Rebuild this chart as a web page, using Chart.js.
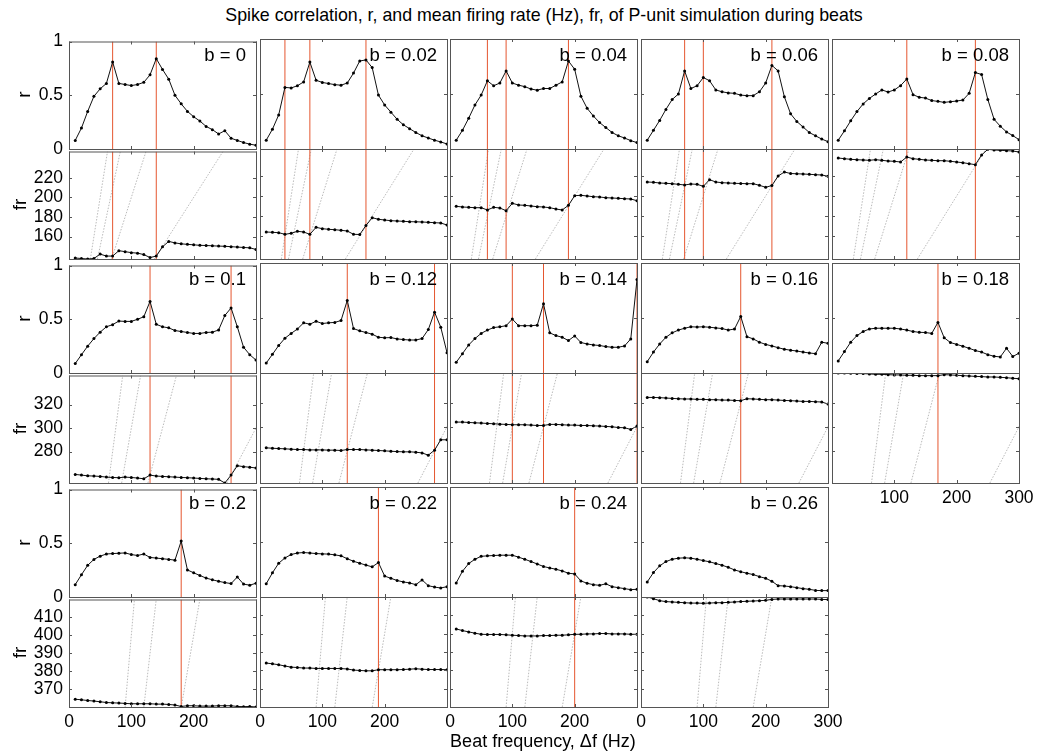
<!DOCTYPE html>
<html>
<head>
<meta charset="utf-8">
<script src="https://cdn.jsdelivr.net/npm/chart.js@4"></script>
<style>
  body { margin: 0; background: #fff; font-family: "Liberation Sans", Arial, sans-serif; }
  #fig { position: relative; width: 1037px; height: 755px; overflow: hidden; }
  #fig canvas { position: absolute; }
  .txt { position: absolute; white-space: nowrap; line-height: 1; color: #000; }
</style>
</head>
<body>
<div id="fig"></div>
<script>
// beat frequencies (Hz)
const freqs = [10,20,30,40,50,60,70,80,90,100,110,120,130,140,150,160,170,180,190,200,210,220,230,240,250,260,270,280,290,300];

// spike correlation r and firing rate fr, one pair per b
const r_b0   = [0.08,0.195,0.35,0.49,0.56,0.61,0.81,0.61,0.60,0.59,0.60,0.62,0.69,0.84,0.74,0.65,0.50,0.42,0.35,0.30,0.26,0.21,0.18,0.14,0.17,0.10,0.08,0.06,0.045,0.035];
const fr_b0  = [138,137.5,137,137.5,142,140,140,145.5,144.5,143.5,143,141.5,138.5,140,149.5,155,153.5,152.5,152,151.5,151,150.8,150.5,150.2,150,149.6,149.2,148.8,148.4,146.8];
const r_b002  = [0.08,0.18,0.31,0.56,0.555,0.575,0.61,0.79,0.625,0.605,0.595,0.585,0.58,0.60,0.69,0.80,0.81,0.74,0.49,0.40,0.335,0.27,0.22,0.185,0.15,0.12,0.10,0.08,0.064,0.046];
const fr_b002 = [164,163.7,163.3,161.7,162.7,164.7,164,161.7,168.7,167.3,166.7,166.3,165.7,165,161.7,161.5,170.5,178.3,176.7,176,175.3,175,174.7,174.3,174.2,174,173.7,173.3,173,171];
const r_b004  = [0.08,0.17,0.28,0.40,0.49,0.62,0.575,0.60,0.71,0.60,0.58,0.567,0.545,0.535,0.55,0.55,0.58,0.61,0.80,0.725,0.48,0.37,0.30,0.24,0.195,0.15,0.12,0.10,0.076,0.058];
const fr_b004 = [189.7,189,188.7,188.3,188.3,186,188.7,188,185.3,192.7,191,190.7,190,189.3,189,188.3,187,186,190.7,200.3,200.7,200,199.3,199,198.3,198,197.7,197.3,197,195.3];
const r_b006  = [0.08,0.17,0.26,0.36,0.45,0.50,0.71,0.55,0.575,0.65,0.62,0.537,0.52,0.51,0.506,0.49,0.485,0.485,0.52,0.60,0.76,0.71,0.475,0.32,0.25,0.20,0.15,0.12,0.09,0.067];
const fr_b006 = [214,213.7,213,212.7,212.3,211.7,211,212,211.7,209.7,216.3,214,213.3,213,212.7,212.5,212.3,212.3,210.7,208.7,210.5,220,224,222.5,222.2,222,221.7,221.3,221,219.7];
const r_b008  = [0.08,0.165,0.256,0.34,0.41,0.46,0.50,0.537,0.518,0.537,0.576,0.637,0.494,0.47,0.463,0.44,0.433,0.424,0.43,0.436,0.445,0.506,0.695,0.677,0.45,0.27,0.207,0.155,0.122,0.085];
const fr_b008 = [238,237.3,236.7,236.3,236,235.7,236.3,235.7,235,234.7,234,239,237.3,236.7,236,235.7,235.3,235.3,234.7,234,233.3,232.3,231.3,241,246.7,246,245.7,245.3,245,244];
const r_b01   = [0.088,0.17,0.25,0.32,0.38,0.43,0.45,0.483,0.48,0.48,0.50,0.523,0.666,0.453,0.43,0.42,0.395,0.386,0.377,0.368,0.368,0.377,0.38,0.40,0.535,0.605,0.43,0.24,0.17,0.12];
const fr_b01  = [260.6,260,259.4,259.2,258.9,258.3,258,257.8,258.3,258,257.5,256.9,260,259.2,258.9,258.6,258.3,258,257.8,257.5,257.2,256.9,256.7,256.4,253.3,260,268,267.2,266.7,266.1];
const r_b012  = [0.09,0.17,0.25,0.316,0.36,0.40,0.456,0.444,0.47,0.45,0.456,0.46,0.477,0.66,0.404,0.383,0.368,0.353,0.325,0.32,0.322,0.31,0.304,0.30,0.30,0.313,0.395,0.553,0.416,0.185];
const fr_b012 = [282.5,282.2,281.9,281.7,281.4,281.1,281.1,280.8,280.8,280.8,280.6,280.6,280.3,281.1,281.1,281.1,280.8,280.6,280.3,280,279.7,279.4,279.2,279.2,278.9,278.3,276.4,280.6,289.2,289.2];
const r_b014  = [0.097,0.176,0.255,0.313,0.36,0.39,0.413,0.42,0.43,0.49,0.43,0.43,0.43,0.435,0.63,0.365,0.34,0.325,0.295,0.337,0.277,0.264,0.255,0.25,0.24,0.234,0.234,0.246,0.31,0.85];
const fr_b014 = [303.9,303.9,303.6,303.3,303.1,302.8,302.5,302.2,302,301.7,301.7,301.7,301.4,301.1,301.1,302,302,301.7,301.4,301.4,301.1,301.1,300.8,300.6,300.3,300,299.4,299.2,297.8,300.6];
const r_b016  = [0.103,0.19,0.264,0.325,0.365,0.39,0.407,0.42,0.418,0.42,0.416,0.41,0.404,0.39,0.40,0.514,0.33,0.31,0.28,0.26,0.246,0.23,0.216,0.207,0.20,0.19,0.182,0.176,0.28,0.27];
const fr_b016 = [324.4,324.4,324.2,323.9,323.6,323.3,323.1,323.1,322.8,322.8,322.5,322.5,322.2,322.2,321.9,321.7,323.3,323.1,322.8,322.5,322.5,322.2,321.9,321.7,321.4,321.1,321.1,320.8,320.6,318.9];
const r_b018  = [0.11,0.195,0.28,0.34,0.377,0.40,0.407,0.407,0.407,0.407,0.40,0.39,0.377,0.37,0.368,0.36,0.46,0.32,0.277,0.26,0.243,0.225,0.204,0.19,0.167,0.152,0.146,0.225,0.15,0.18];
const fr_b018 = [344.7,344.7,344.4,344.2,344.2,343.9,343.6,343.6,343.3,343.1,343.1,342.8,342.8,342.5,342.5,342.5,342.5,343.3,343.1,342.8,342.5,342.2,341.9,341.7,341.4,341.4,341.1,340.8,340.3,340];
const r_b02   = [0.115,0.207,0.295,0.35,0.38,0.40,0.404,0.407,0.41,0.395,0.386,0.40,0.368,0.362,0.356,0.35,0.343,0.52,0.252,0.225,0.20,0.176,0.16,0.146,0.134,0.125,0.186,0.12,0.11,0.128];
const fr_b02  = [364.5,364.2,363.8,363.5,363.1,362.7,362.5,362.4,362.2,362,362,362,362,361.8,361.8,361.6,361.3,360.5,360.9,360.9,360.7,360.7,360.7,360.9,360.9,360.9,360.5,360.4,360.5,360.2];
const r_b022  = [0.12,0.22,0.307,0.355,0.386,0.40,0.404,0.40,0.395,0.392,0.39,0.383,0.374,0.348,0.325,0.307,0.29,0.274,0.313,0.19,0.17,0.15,0.137,0.128,0.112,0.155,0.103,0.09,0.082,0.094];
const fr_b022 = [384,383.6,383.1,382.4,381.8,381.6,381.3,381.3,381.1,381.1,381.1,381.1,381,380.8,380.2,380,379.8,379.8,380.4,380.4,380.4,380.4,380.5,380.7,380.9,380.7,380.5,380.5,380.5,380.4];
const r_b024  = [0.128,0.234,0.304,0.343,0.37,0.374,0.377,0.38,0.38,0.38,0.362,0.343,0.322,0.30,0.277,0.264,0.252,0.237,0.216,0.21,0.146,0.125,0.112,0.106,0.12,0.094,0.085,0.076,0.067,0.07];
const fr_b024 = [402.5,401.6,400.9,400.2,399.6,399.5,399.5,399.5,399.3,399.1,398.9,398.7,398.7,398.7,398.9,398.9,399.1,399.1,399.3,399.6,399.6,399.8,399.8,400,400,399.8,399.8,399.8,399.6,399.6];
const r_b026  = [0.137,0.222,0.283,0.322,0.343,0.353,0.356,0.353,0.343,0.331,0.32,0.304,0.289,0.27,0.246,0.23,0.216,0.204,0.185,0.17,0.143,0.103,0.10,0.094,0.085,0.076,0.07,0.06,0.058,0.058];
const fr_b026 = [419.8,418.9,417.8,417.3,417.1,416.9,416.7,416.5,416.5,416.4,416.5,416.7,416.7,416.9,417.1,417.3,417.5,417.6,417.8,418,418.5,418.7,418.7,418.7,418.7,418.7,418.7,418.7,418.5,418.4];

// locking frequencies (red vertical lines)
const lock_b0 = [70,140], lock_b002 = [40,80,170], lock_b004 = [60,90,190], lock_b006 = [70,100,210];
const lock_b008 = [120,230], lock_b01 = [130,260], lock_b012 = [140,280], lock_b014 = [100,150,300];
const lock_b016 = [160], lock_b018 = [170], lock_b02 = [180], lock_b022 = [190], lock_b024 = [200], lock_b026 = [];

// axes
const xTicks = [0,100,200,300];
const rTicks = [0,0.5,1];
const frTicksRow = [[160,180,200,220],[280,300,320],[370,380,390,400,410]];
const frLimitsRow = [[137,247],[253.3,344.7],[360.2,419.8]];
const harmonics = [1,2,3,4]; // dotted lines fr = n * df

const panels = [
  {b:'0',    r:r_b0,   fr:fr_b0,   lock:lock_b0},
  {b:'0.02', r:r_b002, fr:fr_b002, lock:lock_b002},
  {b:'0.04', r:r_b004, fr:fr_b004, lock:lock_b004},
  {b:'0.06', r:r_b006, fr:fr_b006, lock:lock_b006},
  {b:'0.08', r:r_b008, fr:fr_b008, lock:lock_b008},
  {b:'0.1',  r:r_b01,  fr:fr_b01,  lock:lock_b01},
  {b:'0.12', r:r_b012, fr:fr_b012, lock:lock_b012},
  {b:'0.14', r:r_b014, fr:fr_b014, lock:lock_b014},
  {b:'0.16', r:r_b016, fr:fr_b016, lock:lock_b016},
  {b:'0.18', r:r_b018, fr:fr_b018, lock:lock_b018},
  {b:'0.2',  r:r_b02,  fr:fr_b02,  lock:lock_b02},
  {b:'0.22', r:r_b022, fr:fr_b022, lock:lock_b022},
  {b:'0.24', r:r_b024, fr:fr_b024, lock:lock_b024},
  {b:'0.26', r:r_b026, fr:fr_b026, lock:lock_b026}
];

const fig = document.getElementById('fig');
const COL_X = [69,260,450,641,832], ROW_Y = [39,263,487];
const W = 187, H = 110;
const PL = 50, PR = 22, PT = 14, PB = 34;
const RED = '#e5562f';
Chart.defaults.font.family = '"Liberation Sans", Arial, sans-serif';
Chart.defaults.color = '#000';

// box and inward tick marks, matlab style
const frame = {
  id: 'frame',
  afterDraw(chart) {
    const {ctx, chartArea: a, scales} = chart;
    ctx.save();
    ctx.strokeStyle = '#555';
    ctx.lineWidth = 1;
    ctx.strokeRect(a.left + 0.5, a.top + 0.5, a.width, a.height);
    ctx.beginPath();
    scales.x.ticks.forEach(t => {
      const px = Math.round(scales.x.getPixelForValue(t.value)) + 0.5;
      ctx.moveTo(px, a.top); ctx.lineTo(px, a.top + 3);
      ctx.moveTo(px, a.bottom); ctx.lineTo(px, a.bottom - 3);
    });
    scales.y.ticks.forEach(t => {
      const py = Math.round(scales.y.getPixelForValue(t.value)) + 0.5;
      ctx.moveTo(a.left, py); ctx.lineTo(a.left + 3, py);
      ctx.moveTo(a.right, py); ctx.lineTo(a.right - 3, py);
    });
    ctx.stroke();
    ctx.restore();
  }
};

function addText(str, x, baseline, size, align) {
  const d = document.createElement('div');
  d.className = 'txt';
  d.textContent = str;
  d.style.fontSize = size + 'px';
  d.style.top = (baseline - 0.8465 * size) + 'px';
  if (align === 'right') { d.style.right = (1037 - x) + 'px'; }
  else if (align === 'center') { d.style.left = (x - 400) + 'px'; d.style.width = '800px'; d.style.textAlign = 'center'; }
  else { d.style.left = x + 'px'; }
  fig.appendChild(d);
}

function addVText(str, baselineX, cy, size) {
  const d = document.createElement('div');
  d.className = 'txt';
  d.textContent = str;
  d.style.fontSize = size + 'px';
  d.style.width = '60px';
  d.style.height = size + 'px';
  d.style.textAlign = 'center';
  d.style.left = (baselineX - 0.3465 * size - 30) + 'px';
  d.style.top = (cy - size / 2) + 'px';
  d.style.transform = 'rotate(-90deg)';
  fig.appendChild(d);
}

function makeChart(x, y, cfg) {
  const c = document.createElement('canvas');
  c.width = PL + W + PR; c.height = PT + H + PB;
  c.style.left = (x - PL) + 'px'; c.style.top = (y - PT) + 'px';
  fig.appendChild(c);
  const datasets = [{
    data: freqs.map((f, i) => ({x: f, y: cfg.values[i]})),
    borderColor: '#111', borderWidth: 1,
    pointRadius: 1.5, pointBackgroundColor: '#000', pointBorderWidth: 0
  }];
  cfg.lock.forEach(f => datasets.push({
    data: [{x: f, y: cfg.min}, {x: f, y: cfg.max}],
    borderColor: RED, borderWidth: 1, pointRadius: 0
  }));
  if (cfg.harm) harmonics.forEach(n => datasets.push({
    data: [{x: cfg.min / n, y: cfg.min}, {x: cfg.max / n, y: cfg.max}],
    borderColor: '#a8a8a8', borderWidth: 0.8, borderDash: [1.5, 1.5], pointRadius: 0
  }));
  new Chart(c, {
    type: 'line',
    data: {datasets},
    options: {
      responsive: false, animation: false, devicePixelRatio: 1, events: [],
      layout: {padding: {left: 0, right: PR, top: PT, bottom: 0}},
      plugins: {legend: {display: false}, tooltip: {enabled: false}},
      scales: {
        x: {
          type: 'linear', min: 0, max: 300,
          afterBuildTicks: s => { s.ticks = xTicks.map(v => ({value: v})); },
          afterFit: s => { s.height = PB; },
          grid: {display: false, drawTicks: false}, border: {display: false},
          ticks: {display: !!cfg.xLabels, padding: 5, font: {size: 17.5},
                  callback: v => (cfg.xLabels && cfg.xLabels.includes(v)) ? String(v) : ''}
        },
        y: {
          type: 'linear', min: cfg.min, max: cfg.max,
          afterBuildTicks: s => { s.ticks = cfg.ticks.map(v => ({value: v})); },
          afterFit: s => { s.width = PL; },
          grid: {display: false, drawTicks: false}, border: {display: false},
          ticks: {display: cfg.yLabels, padding: 6, font: {size: 17.5}, callback: v => String(v)}
        }
      }
    },
    plugins: [frame]
  });
}

panels.forEach((p, i) => {
  const row = Math.floor(i / 5), col = i % 5;
  const x = COL_X[col], y = ROW_Y[row];
  let xLabels = null;
  if (row === 2) xLabels = col === 3 ? [0,100,200,300] : [0,100,200];
  if (row === 1 && col === 4) xLabels = [100,200,300];
  makeChart(x, y, {values: p.r, lock: p.lock, min: 0, max: 1, ticks: rTicks, yLabels: col === 0});
  makeChart(x, y + H, {values: p.fr, lock: p.lock, min: frLimitsRow[row][0], max: frLimitsRow[row][1],
    ticks: frTicksRow[row], yLabels: col === 0, harm: true, xLabels});
  addText('b = ' + p.b, x + W - 10, y + 23, 18.5, 'right');
});

ROW_Y.forEach(y => {
  addVText('r', 29.5, y + H / 2, 19);
  addVText('fr', 25.5, y + H + H / 2, 19);
});
addText('Spike correlation, r, and mean firing rate (Hz), fr, of P-unit simulation during beats', 544, 22, 17.8, 'center');
addText('Beat frequency, \u0394f (Hz)', 543, 747, 18, 'center');
</script>
</body>
</html>
